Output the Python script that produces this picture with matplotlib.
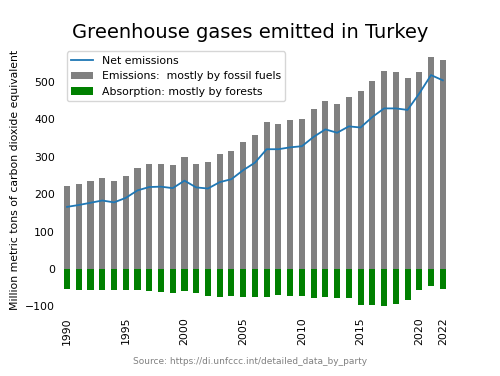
import matplotlib
matplotlib.use("Agg")
import matplotlib.pyplot as plt

years = list(range(1990, 2023))
emissions = [222, 228, 235, 242, 235, 249, 269, 280, 281, 278, 299, 280, 286, 306, 315,
             338, 359, 392, 388, 397, 400, 428, 448, 442, 460, 475, 502, 528, 525, 509,
             525, 566, 558]
absorption = [-53, -55, -55, -55, -56, -56, -56, -60, -62, -63, -60, -64, -71, -74, -73,
              -74, -74, -74, -69, -72, -72, -77, -74, -77, -78, -96, -95, -99, -94, -83,
              -55, -45, -54]
net = [166, 171, 177, 183, 178, 190, 210, 219, 220, 216, 236, 218, 215, 232, 240,
       264, 284, 320, 320, 325, 328, 353, 373, 364, 381, 378, 406, 429, 429, 425,
       469, 518, 504]
xticks = [1990, 1995, 2000, 2005, 2010, 2015, 2020, 2022]

fig = plt.figure(figsize=(5, 3.76), dpi=100)
ax = fig.add_axes([0.12, 0.170, 0.782, 0.702])

ax.bar(years, emissions, width=0.52, color='grey', label='Emissions:  mostly by fossil fuels')
ax.bar(years, absorption, width=0.52, color='green', label='Absorption: mostly by forests')
ax.plot(years, net, color='#1f77b4', lw=1.3, label='Net emissions')

ax.set_xlim(1989.4, 2022.7)
ax.set_ylim(-115, 590)
ax.set_xticks(xticks)
ax.set_xticklabels([str(x) for x in xticks], rotation=90, fontsize=7.8)
ax.set_yticks([-100, 0, 100, 200, 300, 400, 500])
ax.tick_params(axis='y', labelsize=7.8)
ax.tick_params(length=0)
for s in ax.spines.values():
    s.set_visible(False)
ax.set_ylabel('Million metric tons of carbon dioxide equivalent', fontsize=7.8)
fig.suptitle('Greenhouse gases emitted in Turkey', fontsize=14, y=0.94)

ax.legend(loc='upper left', fontsize=7.8, framealpha=0.8, borderaxespad=0.3,
          bbox_to_anchor=(0.01, 1.0))

fig.text(0.5, 0.032, 'Source: https://di.unfccc.int/detailed_data_by_party',
         ha='center', fontsize=6.5, color='grey')

fig.savefig('out.png', dpi=100)
